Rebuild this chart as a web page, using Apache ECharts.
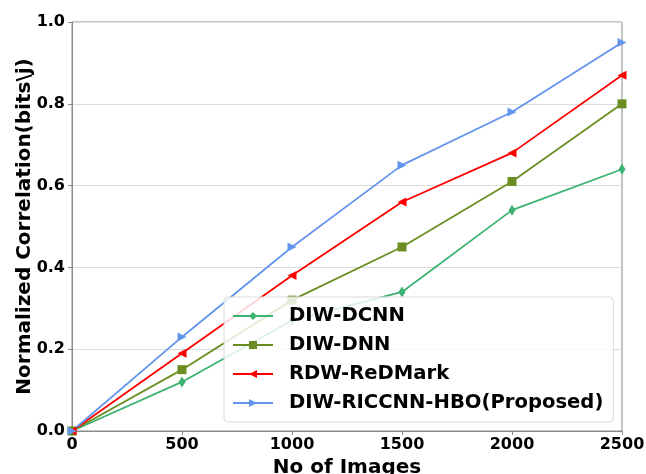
<!DOCTYPE html>
<html>
<head>
<meta charset="utf-8">
<script src="https://cdn.jsdelivr.net/npm/echarts@6/dist/echarts.min.js"></script>
<style>
  html, body { margin: 0; padding: 0; background: #fff; }
  #chart { width: 646px; height: 474px; }
</style>
</head>
<body>
<div id="chart"></div>
<script>
// values
const images = [0, 500, 1000, 1500, 2000, 2500];
const dcnn = [0, 0.12, 0.27, 0.34, 0.54, 0.64];
const dnn = [0, 0.15, 0.32, 0.45, 0.61, 0.80];
const redmark = [0, 0.19, 0.38, 0.56, 0.68, 0.87];
const proposed = [0, 0.23, 0.45, 0.65, 0.78, 0.95];

const seriesNames = ["DIW-DCNN", "DIW-DNN", "RDW-ReDMark", "DIW-RICCNN-HBO(Proposed)"];

const font = "DejaVu Sans";
const axisGray = "#8a8a8a";

const pairs = (ys) => images.map((x, i) => [x, ys[i]]);

function makeLine(name, ys, color, symbol, size) {
  return {
    name: name,
    type: "line",
    data: pairs(ys),
    symbol: symbol,
    symbolSize: size,
    showSymbol: true,
    lineStyle: { color: color, width: 1.8 },
    itemStyle: { color: color },
    emphasis: { disabled: true },
  };
}

const chart = echarts.init(document.getElementById("chart"));

chart.setOption({
  animation: false,
  grid: {
    left: 72, top: 22, right: 24, bottom: 43,
    outerBoundsMode: "none", containLabel: false,
    show: true, borderColor: axisGray, borderWidth: 1,
  },
  legend: {
    data: seriesNames,
    orient: "vertical",
    left: 224,
    top: 297,
    padding: [9, 10, 9, 8],
    itemWidth: 40,
    itemHeight: 10,
    itemGap: 9,
    backgroundColor: "rgba(255,255,255,0.82)",
    borderColor: "#dadada",
    borderWidth: 1,
    borderRadius: 4,
    textStyle: {
      fontFamily: font,
      fontWeight: "bold",
      fontSize: 19.6,
      lineHeight: 20,
      color: "#000",
      padding: [0, 0, 0, 11],
    },
  },
  xAxis: {
    type: "value",
    min: 0,
    max: 2500,
    interval: 500,
    name: "No of Images",
    nameLocation: "middle",
    nameGap: 25,
    nameTextStyle: { fontFamily: font, fontWeight: "bold", fontSize: 20, color: "#000" },
    axisLine: { lineStyle: { color: axisGray } },
    axisTick: { show: true, length: 4, lineStyle: { color: axisGray } },
    axisLabel: {
      fontFamily: font, fontWeight: "bold", fontSize: 16, color: "#000", margin: 6,
      formatter: (v) => String(v),
    },
    splitLine: { show: false },
  },
  yAxis: {
    type: "value",
    min: 0,
    max: 1,
    interval: 0.2,
    name: "Normalized Correlation(bits\\j)",
    nameLocation: "middle",
    nameGap: 37,
    nameMoveOverlap: false,
    nameTextStyle: { fontFamily: font, fontWeight: "bold", fontSize: 20, color: "#000" },
    axisLine: { lineStyle: { color: axisGray } },
    axisTick: { show: true, length: 4, lineStyle: { color: axisGray } },
    axisLabel: {
      fontFamily: font, fontWeight: "bold", fontSize: 16, color: "#000", margin: 7,
      formatter: (v) => v.toFixed(1),
    },
    splitLine: { show: true, lineStyle: { color: "#dcdcdc", width: 1 } },
  },
  series: [
    makeLine(seriesNames[0], dcnn, "#3cb371", "path://M0,-10 L6,0 L0,10 L-6,0 Z", [7, 11]),
    makeLine(seriesNames[1], dnn, "#6b8e23", "rect", 9),
    makeLine(seriesNames[2], redmark, "#ff0000", "path://M-10,0 L10,-10 L10,10 Z", 9),
    makeLine(seriesNames[3], proposed, "#6495ed", "path://M10,0 L-10,-10 L-10,10 Z", 9),
  ],
});
</script>
</body>
</html>
